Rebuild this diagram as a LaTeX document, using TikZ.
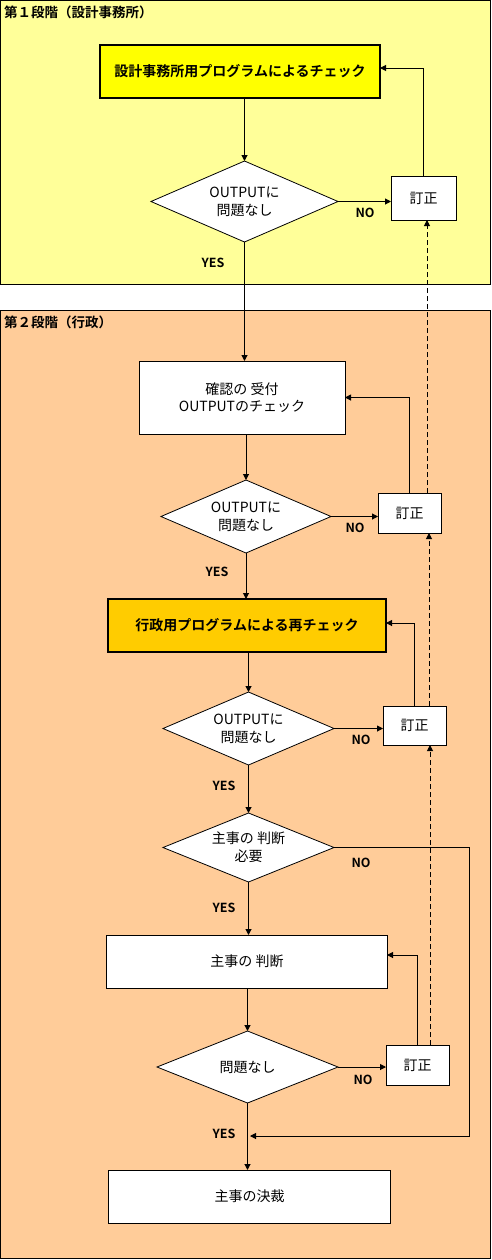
\documentclass[tikz,border=0pt]{standalone}
\usepackage{fontspec}
\setmainfont{Noto Sans CJK JP}[BoldFont={Noto Sans CJK JP Bold}]
\usetikzlibrary{arrows.meta,shapes.geometric}
\definecolor{stageone}{HTML}{FFFF99}
\definecolor{stagetwo}{HTML}{FFCC99}
\definecolor{officefill}{HTML}{FFFF00}
\definecolor{govfill}{HTML}{FFCC00}
\tikzset{
  stage/.style={draw=black,line width=1bp},
  heading/.style={anchor=west,font=\fontsize{13.5bp}{16bp}\selectfont\bfseries},
  procbox/.style={draw=black,fill=white,line width=1bp,align=center,font=\fontsize{14bp}{17bp}\selectfont},
  progbox/.style={draw=black,line width=2bp,font=\fontsize{14bp}{16bp}\selectfont\bfseries},
  fixbox/.style={procbox,minimum width=63bp,minimum height=40bp},
  decision/.style={diamond,shape aspect=2.4,draw=black,fill=white,line width=0.8bp,align=center,font=\fontsize{14bp}{18bp}\selectfont},
  answer/.style={font=\fontsize{12.5bp}{14bp}\selectfont\bfseries},
  wire/.style={draw=black,line width=1bp},
  arrow/.style={wire,-{Triangle[length=6bp,width=6bp]}},
  back/.style={draw=black,line width=1bp,dash pattern=on 5bp off 3bp,-{Triangle[length=6bp,width=6bp]}}
}
\begin{document}
\begin{tikzpicture}[x=1bp,y=-1bp,every node/.style={inner sep=0pt,outer sep=0pt}]
\path[use as bounding box] (0,0) rectangle (492,1260);

% stages
\draw[stage,fill=stageone] (0.5,0.5) rectangle (490,284);
\node[heading] (stage-one) at (4,12) {第１段階（設計事務所）};
\draw[stage,fill=stagetwo] (0.5,310) rectangle (490,1258);
\node[heading] (stage-two) at (4,322) {第２段階（行政）};

% first stage
\node[progbox,fill=officefill,minimum width=280bp,minimum height=53bp] (office-check) at (240,71.5) {設計事務所用プログラムによるチェック};
\node[decision,minimum width=187bp,minimum height=81bp] (office-ok) at (244.5,201.5) {OUTPUTに\\問題なし};
\node[fixbox,minimum width=65bp,minimum height=44bp] (office-fix) at (423.5,198) {訂正};

% second stage
\node[procbox,minimum width=206bp,minimum height=73bp] (receipt) at (242,397.5) {確認の 受付\\OUTPUTのチェック};
\node[decision,minimum width=170bp,minimum height=73bp] (receipt-ok) at (246,516.5) {OUTPUTに\\問題なし};
\node[fixbox] (receipt-fix) at (409.5,513) {訂正};
\node[progbox,fill=govfill,minimum width=278bp,minimum height=53bp] (gov-check) at (247,625.5) {行政用プログラムによる再チェック};
\node[decision,minimum width=171bp,minimum height=73bp] (gov-ok) at (248.5,728.5) {OUTPUTに\\問題なし};
\node[fixbox,minimum height=39bp] (gov-fix) at (414.5,725.5) {訂正};
\node[decision,minimum width=171bp,minimum height=69bp] (need-judge) at (248.5,847.5) {主事の 判断\\必要};
\node[procbox,minimum width=280bp,minimum height=53bp] (judge) at (247,961.5) {主事の 判断};
\node[decision,minimum width=181bp,minimum height=72bp] (judge-ok) at (247.5,1067) {問題なし};
\node[fixbox] (judge-fix) at (417.5,1065) {訂正};
\node[procbox,minimum width=281bp,minimum height=53bp] (decide) at (249.5,1196.5) {主事の決裁};

\coordinate (dash-x) at (427,0);
\coordinate (skip) at (469,1136);
\coordinate (merge) at (250,1136);

% main flow
\draw[arrow] (office-ok.north |- office-check.south) -- (office-ok.north);
\draw[arrow] (office-ok.south) -- (office-ok.south |- receipt.north);
\draw[arrow] (receipt-ok.north |- receipt.south) -- (receipt-ok.north);
\draw[arrow] (receipt-ok.south) -- (receipt-ok.south |- gov-check.north);
\draw[arrow] (gov-ok.north |- gov-check.south) -- (gov-ok.north);
\draw[arrow] (gov-ok.south) -- (need-judge.north);
\draw[arrow] (need-judge.south) -- (need-judge.south |- judge.north);
\draw[arrow] (judge-ok.north |- judge.south) -- (judge-ok.north);
\draw[arrow] (judge-ok.south) -- (judge-ok.south |- decide.north);

% NO branches
\draw[arrow] (office-ok.east) -- (office-ok.east -| office-fix.west);
\draw[arrow] (receipt-ok.east) -- (receipt-ok.east -| receipt-fix.west);
\draw[arrow] (gov-ok.east) -- (gov-ok.east -| gov-fix.west);
\draw[arrow] (judge-ok.east) -- (judge-ok.east -| judge-fix.west);
\draw[arrow] (need-judge.east) -| (skip) -- (merge);

% corrections back
\draw[arrow] (office-fix.north) |- ([yshift=3.5bp]office-check.east);
\draw[arrow] (receipt-fix.north) |- (receipt.east);
\draw[arrow] (gov-fix.north) |- ([yshift=2.5bp]gov-check.east);
\draw[arrow] (judge-fix.north) |- ([yshift=6.5bp]judge.east);
\draw[back] (receipt-fix.north -| dash-x) -- (office-fix.south -| dash-x);
\draw[back] ([xshift=2bp]gov-fix.north -| dash-x) -- ([xshift=2bp]receipt-fix.south -| dash-x);
\draw[back] ([xshift=3bp]judge-fix.north -| dash-x) -- ([xshift=3bp]gov-fix.south -| dash-x);

% answers
\node[answer] (no-1) at (365,213) {NO};
\node[answer] (yes-1) at (213,263) {YES};
\node[answer] (no-2) at (355,528) {NO};
\node[answer] (yes-2) at (217,572) {YES};
\node[answer] (no-3) at (361,740) {NO};
\node[answer] (yes-3) at (224,786) {YES};
\node[answer] (no-4) at (361,863) {NO};
\node[answer] (yes-4) at (224,908) {YES};
\node[answer] (no-5) at (363,1080) {NO};
\node[answer] (yes-5) at (224,1134) {YES};
\end{tikzpicture}
\end{document}
